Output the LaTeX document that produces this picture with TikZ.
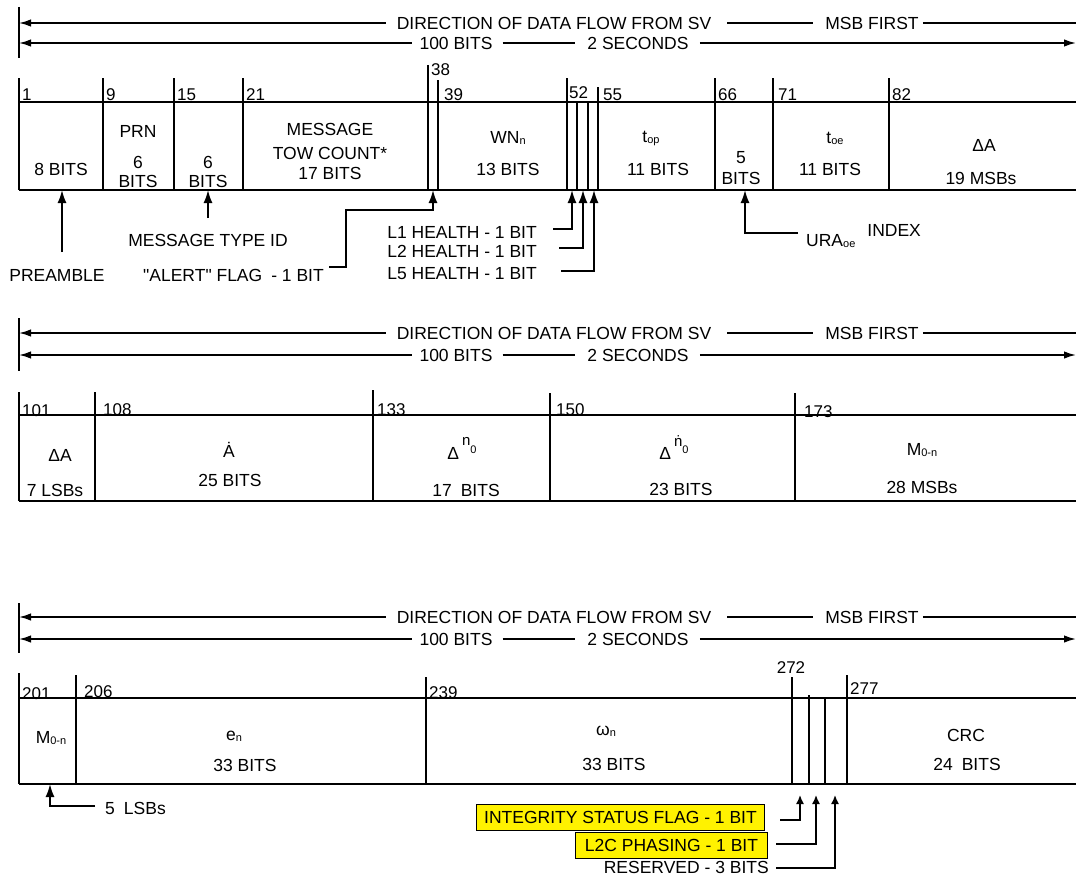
\documentclass[tikz,border=0pt]{standalone}
\usepackage{fontspec}
\setmainfont{Liberation Sans}[Ligatures=TeXOff]
\usetikzlibrary{arrows.meta}
\newcommand\fsz{\fontsize{17.5pt}{20pt}\selectfont}
\newcommand\nsz{\fontsize{17pt}{20pt}\selectfont}
\newcommand\ssz{\fontsize{11pt}{12pt}\selectfont}
\newcommand\mysub[1]{\raisebox{-1pt}{\ssz #1}}
\newcommand\flowheader[5]{%
  \draw[frame] (19,#2) -- (19,#3);
  \node[txt] (dir#1) at (554,#4) {DIRECTION OF DATA FLOW FROM SV};
  \node[txt] (msb#1) at (872,#4) {MSB FIRST};
  \node[txt] (bits#1) at (456,#5) {100 BITS};
  \node[txt] (sec#1) at (638,#5) {2 SECONDS};
  \coordinate (la#1) at (19,#4); \coordinate (ra#1) at (1076,#4);
  \coordinate (lb#1) at (19,#5); \coordinate (rb#1) at (1076,#5);
  \draw[flow,{Latex[length=12pt,width=7.5pt]}-] (la#1) -- ([xshift=-11pt]dir#1.west);
  \draw[flow] ([xshift=16pt]dir#1.east) -- ([xshift=-12pt]msb#1.west);
  \draw[flow] ([xshift=4pt]msb#1.east) -- (ra#1);
  \draw[flow,{Latex[length=12pt,width=7.5pt]}-] (lb#1) -- ([xshift=-7pt]bits#1.west);
  \draw[flow] ([xshift=10pt]bits#1.east) -- ([xshift=-12pt]sec#1.west);
  \draw[flow,-{Latex[length=12pt,width=7.5pt]}] ([xshift=11pt]sec#1.east) -- (rb#1);
}
\begin{document}
\begin{tikzpicture}[x=1pt,y=-1pt,
  txt/.style={font=\fsz, inner sep=0pt},
  num/.style={font=\nsz, inner sep=0pt, anchor=base west},
  frame/.style={line width=1.9pt},
  tick/.style={line width=1.7pt},
  flow/.style={line width=1.7pt},
  ptr/.style={line width=1.7pt, -{Latex[length=13pt,width=9pt]}},
  sptr/.style={line width=1.5pt, -{Latex[length=9pt,width=8pt]}},
  flag/.style={font=\fsz, inner ysep=0pt, inner xsep=4pt, minimum height=26pt,
    fill=yellow, draw=black, line width=1pt, anchor=east}
]
\useasboundingbox (0,0) rectangle (1076,875);
\fill[white] (0,0) rectangle (1076,875);

% ================= ROW 1 =================
\flowheader{A}{7}{58}{23}{43}
\draw[frame] (19,102) -- (1076,102);
\draw[frame] (19,190) -- (1076,190);
\draw[frame] (19,78) -- (19,190);
\foreach \x/\t in {103/78,174/78,243/78,428/65,438/80,567/78,577/102,588/102,598/87,715/78,773/78,889/78}
  \draw[tick] (\x,\t) -- (\x,190);
\node[num] (n1) at (22,100) {1};
\node[num] (n9) at (106,100) {9};
\node[num] (n15) at (177,100) {15};
\node[num] (n21) at (246,100) {21};
\node[num] (n38) at (431,76) {38};
\node[num] (n39) at (444,100) {39};
\node[num] (n52) at (569,98) {52};
\node[num] (n55) at (603,100) {55};
\node[num] (n66) at (718,100) {66};
\node[num] (n71) at (778,100) {71};
\node[num] (n82) at (892,100) {82};

\node[txt] (c1a) at (61,169) {8 BITS};
\node[txt] (c2a) at (138,131) {PRN};
\node[txt] (c2b) at (138,162) {6};
\node[txt] (c2c) at (138,181) {BITS};
\node[txt] (c3b) at (208,162) {6};
\node[txt] (c3c) at (208,181) {BITS};
\node[txt] (c4a) at (330,129) {MESSAGE};
\node[txt] (c4b) at (330,153) {TOW COUNT*};
\node[txt] (c4c) at (330,173) {17 BITS};
\node[txt] (c6a) at (508,138) {WN\mysub{n}};
\node[txt] (c6b) at (508,169) {13 BITS};
\node[txt] (c8a) at (651,138) {t\mysub{op}};
\node[txt] (c8b) at (658,169) {11 BITS};
\node[txt] (c9a) at (741,158) {5};
\node[txt] (c9b) at (741,178) {BITS};
\node[txt] (c10a) at (835,138) {t\mysub{oe}};
\node[txt] (c10b) at (830,169) {11 BITS};
\node[txt] (c11a) at (984,145) {ΔA};
\node[txt] (c11b) at (981,178) {19 MSBs};

\node[txt] (pre) at (57,275) {PREAMBLE};
\coordinate (preT) at (62,252); \coordinate (preH) at (62,190);
\draw[ptr] (preT) -- (preH);
\node[txt] (mti) at (208,240) {MESSAGE TYPE ID};
\coordinate (mtiT) at (208,218); \coordinate (mtiH) at (208,190);
\draw[ptr] (mtiT) -- (mtiH);
\node[txt, anchor=east] (alert) at (324,275) {"ALERT" FLAG\hspace{9pt}- 1 BIT};
\coordinate (alT) at (329,267); \coordinate (alB) at (346,210); \coordinate (alH) at (433,190);
\draw[ptr] (alT) -| (alB) -| (alH);
\node[txt, anchor=east] (h1) at (537,232) {L1 HEALTH - 1 BIT};
\node[txt, anchor=east] (h2) at (537,251) {L2 HEALTH - 1 BIT};
\node[txt, anchor=east] (h5) at (537,274) {L5 HEALTH - 1 BIT};
\coordinate (h1T) at (553,229); \coordinate (h1H) at (572,190);
\coordinate (h2T) at (559,248); \coordinate (h2H) at (583,190);
\coordinate (h5T) at (561,271); \coordinate (h5H) at (594,190);
\draw[ptr] (h1T) -| (h1H);
\draw[ptr] (h2T) -| (h2H);
\draw[ptr] (h5T) -| (h5H);
\node[font=\fsz, inner sep=0pt, anchor=base west] (ura) at (806,246) {URA\mysub{oe}\hspace{12pt}\raisebox{10pt}{INDEX}};
\coordinate (uraT) at (798,233); \coordinate (uraH) at (745,190);
\draw[ptr] (uraT) -| (uraH);

% ================= ROW 2 =================
\flowheader{B}{318}{371}{333}{355}
\draw[frame] (19,415) -- (1076,415);
\draw[frame] (19,501) -- (1076,501);
\draw[frame] (19,392) -- (19,501);
\foreach \x/\t in {95/392,373/390,550/393,795/393}
  \draw[tick] (\x,\t) -- (\x,501);
\node[num] (n101) at (22,416) {101};
\node[num] (n108) at (103,415) {108};
\node[num] (n133) at (377,415) {133};
\node[num] (n150) at (556,415) {150};
\node[num] (n173) at (804,417) {173};

\node[txt] (d1a) at (60,455) {ΔA};
\node[txt] (d1b) at (55,490) {7 LSBs};
\node[txt] (d2a) at (229,450) {\.{A}};
\node[txt] (d2b) at (230,480) {25 BITS};
\node[font=\fsz, inner sep=0pt, anchor=base] (d3a) at (462,459) {Δ\hspace{3pt}\raisebox{14pt}{\fontsize{15pt}{15pt}\selectfont n}\raisebox{6pt}{\ssz 0}};
\node[txt] (d3b) at (466,490) {17\hspace{9pt}BITS};
\node[font=\fsz, inner sep=0pt, anchor=base] (d4a) at (674,459) {Δ\hspace{3pt}\raisebox{13pt}{\fontsize{15pt}{15pt}\selectfont \.{n}}\raisebox{6pt}{\ssz 0}};
\node[txt] (d4b) at (681,489) {23 BITS};
\node[txt] (d5a) at (922,450) {M\mysub{0-n}};
\node[txt] (d5b) at (922,487) {28 MSBs};

% ================= ROW 3 =================
\flowheader{C}{603}{653}{617}{639}
\draw[frame] (19,698) -- (1076,698);
\draw[frame] (19,784) -- (1076,784);
\draw[frame] (19,673) -- (19,784);
\foreach \x/\t in {76/675,426/677,792/677,809/695,825/697,847/675}
  \draw[tick] (\x,\t) -- (\x,784);
\node[num] (n201) at (22,699) {201};
\node[num] (n206) at (84,697) {206};
\node[num] (n239) at (429,698) {239};
\node[font=\nsz, inner sep=0pt] (n272) at (791,668) {272};
\node[num] (n277) at (850,694) {277};

\node[txt] (e1a) at (51,738) {M\mysub{0-n}};
\node[txt] (e2a) at (234,736) {e\mysub{n}};
\node[txt] (e2b) at (245,765) {33 BITS};
\node[txt] (e3a) at (606,731) {ω\mysub{n}};
\node[txt] (e3b) at (614,764) {33 BITS};
\node[txt] (e4a) at (966,735) {CRC};
\node[txt] (e4b) at (967,764) {24\hspace{9pt}BITS};

\node[txt, anchor=west] (lsb) at (105,808) {5\hspace{9pt}LSBs};
\coordinate (lsbT) at (95,806); \coordinate (lsbH) at (50,784);
\draw[ptr] (lsbT) -| (lsbH);

\node[flag, minimum width=288pt] (isf) at (765,817) {INTEGRITY STATUS FLAG - 1 BIT};
\node[flag, minimum width=192pt] (l2c) at (768,845) {L2C PHASING - 1 BIT};
\node[txt, anchor=east] (res) at (769,867) {RESERVED - 3 BITS};
\coordinate (isfT) at (780,820); \coordinate (isfH) at (800,795);
\coordinate (l2cT) at (776,844); \coordinate (l2cH) at (816,795);
\coordinate (resT) at (776,868); \coordinate (resH) at (835,795);
\draw[sptr] (isfT) -| (isfH);
\draw[sptr] (l2cT) -| (l2cH);
\draw[sptr] (resT) -| (resH);
\end{tikzpicture}
\end{document}
